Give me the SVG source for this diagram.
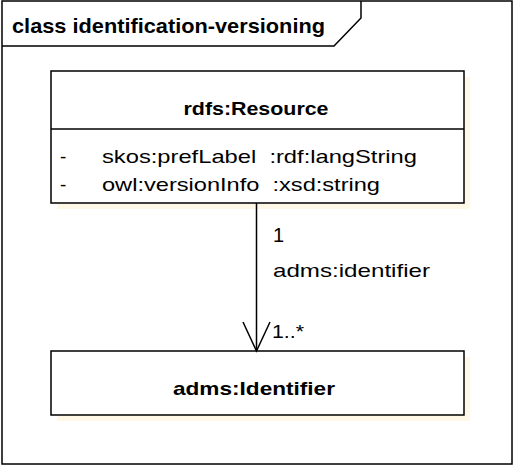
<svg xmlns="http://www.w3.org/2000/svg" width="514" height="466" viewBox="0 0 514 466">
<style>
.ln{fill:none;stroke:#000;stroke-width:1.5}
.box{fill:#fff;stroke:#000;stroke-width:1.5}
.sh{fill:#fff8e6;stroke:none}
text{font-family:"Liberation Sans",Arial,sans-serif;fill:#000;white-space:pre}
.b{font-weight:bold;font-size:19px}
.r{font-size:19px}
</style>
<rect x="0" y="0" width="514" height="466" fill="#fff"/>
<g id="frame">
<rect x="2" y="1" width="510" height="463" class="ln"/>
<polyline points="2,46 334,46 361,18 361,1" class="ln"/>
<text x="12" y="33" class="b" style="font-size:21px" textLength="313" lengthAdjust="spacingAndGlyphs">class identification-versioning</text>
</g>
<g id="rdfs-resource">
<rect x="57" y="77" width="413" height="132" class="sh"/>
<rect x="51" y="71" width="413" height="132" class="box"/>
<line x1="51" y1="129" x2="464" y2="129" class="ln"/>
<text x="256" y="115" class="b" text-anchor="middle" textLength="145" lengthAdjust="spacingAndGlyphs">rdfs:Resource</text>
<text x="60" y="163" class="r">-</text>
<text x="102" y="163" class="r" textLength="315" lengthAdjust="spacingAndGlyphs">skos:prefLabel  :rdf:langString</text>
<text x="60" y="191" class="r">-</text>
<text x="102" y="191" class="r" textLength="278" lengthAdjust="spacingAndGlyphs">owl:versionInfo  :xsd:string</text>
</g>
<g id="adms-identifier">
<rect x="57" y="357" width="413" height="64" class="sh"/>
<rect x="51" y="351" width="413" height="64" class="box"/>
<text x="254" y="395" class="b" text-anchor="middle" textLength="162" lengthAdjust="spacingAndGlyphs">adms:Identifier</text>
</g>
<g id="connectors">
<line x1="256.5" y1="203" x2="256.5" y2="351" class="ln" stroke-width="1"/>
<polyline points="243,322 256.5,351 270,322" class="ln" stroke-width="1"/>
<text x="273" y="242" class="r" style="font-size:20px">1</text>
<text x="273" y="277" class="r" textLength="157" lengthAdjust="spacingAndGlyphs">adms:identifier</text>
<text x="272" y="338" class="r" textLength="32" lengthAdjust="spacingAndGlyphs">1..*</text>
</g>
</svg>
